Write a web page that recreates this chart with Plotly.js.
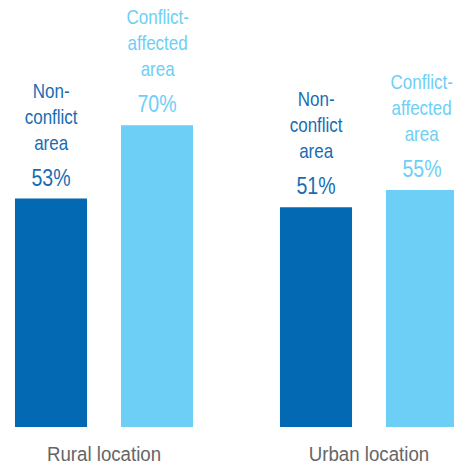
<!DOCTYPE html>
<html>
<head>
<meta charset="utf-8">
<script src="https://cdn.plot.ly/plotly-3.0.1.min.js"></script>
<style>html,body{margin:0;padding:0;background:#fff;}#chart{width:454px;height:465px;}</style>
</head>
<body>
<div id="chart"></div>
<script>
var locations = ["Rural location", "Urban location"];
var seriesNames = ["Non-<br>conflict<br>area", "Conflict-<br>affected<br>area"];
var nonConflict = [53, 51];
var conflictAffected = [70, 55];
var colors = ["#0469b3", "#6dcff6"];
var textColors = ["#176db3", "#6dcff6"];

var FONT = "'Liberation Sans', Arial, sans-serif";
var series = [nonConflict, conflictAffected];

var traces = series.map(function (vals, s) {
  return {
    type: "bar",
    x: locations,
    y: vals,
    name: seriesNames[s],
    marker: {color: colors[s]},
    hoverinfo: "skip"
  };
});

var annotations = [];
var offsets = [-0.2, 0.2];
series.forEach(function (vals, s) {
  vals.forEach(function (v, i) {
    annotations.push({
      x: i + offsets[s], y: v, xref: "x", yref: "y",
      text: v + "%", showarrow: false,
      yanchor: "middle", yshift: 21,
      font: {family: FONT, size: 23, color: textColors[s]}
    });
    annotations.push({
      x: i + offsets[s], y: v, xref: "x", yref: "y",
      text: seriesNames[s], showarrow: false,
      yanchor: "middle", yshift: 82,
      font: {family: FONT, size: 20, color: textColors[s]}
    });
  });
});

var layout = {
  width: 454, height: 465,
  margin: {l: 0, r: 0, t: 0, b: 38, pad: 0},
  paper_bgcolor: "#ffffff",
  plot_bgcolor: "#ffffff",
  showlegend: false,
  barmode: "group",
  bargap: 0.2,
  bargroupgap: 0.32,
  xaxis: {
    type: "category",
    range: [-0.3925, 1.3208],
    showgrid: false, zeroline: false, showline: false,
    ticks: "", ticklabelstandoff: 12,
    tickfont: {family: FONT, size: 21, color: "#666666"}
  },
  yaxis: {
    range: [0, 99.07],
    visible: false, showgrid: false, zeroline: false
  },
  annotations: annotations,
  font: {family: FONT}
};

// horizontally condense text to mimic the condensed typeface of the original
function condense(sel, s) {
  document.querySelectorAll(sel).forEach(function (el) {
    var bb = el.getBBox();
    var cx = bb.x + bb.width / 2;
    var orig = el.getAttribute("transform") || "";
    el.setAttribute("transform", orig + " translate(" + cx + ",0) scale(" + s + ",1) translate(" + (-cx) + ",0)");
  });
}

Plotly.newPlot("chart", traces, layout, {staticPlot: true, displayModeBar: false}).then(function () {
  condense("#chart .annotation-text", 0.85);
  condense("#chart .xtick text", 0.89);
});
</script>
</body>
</html>
